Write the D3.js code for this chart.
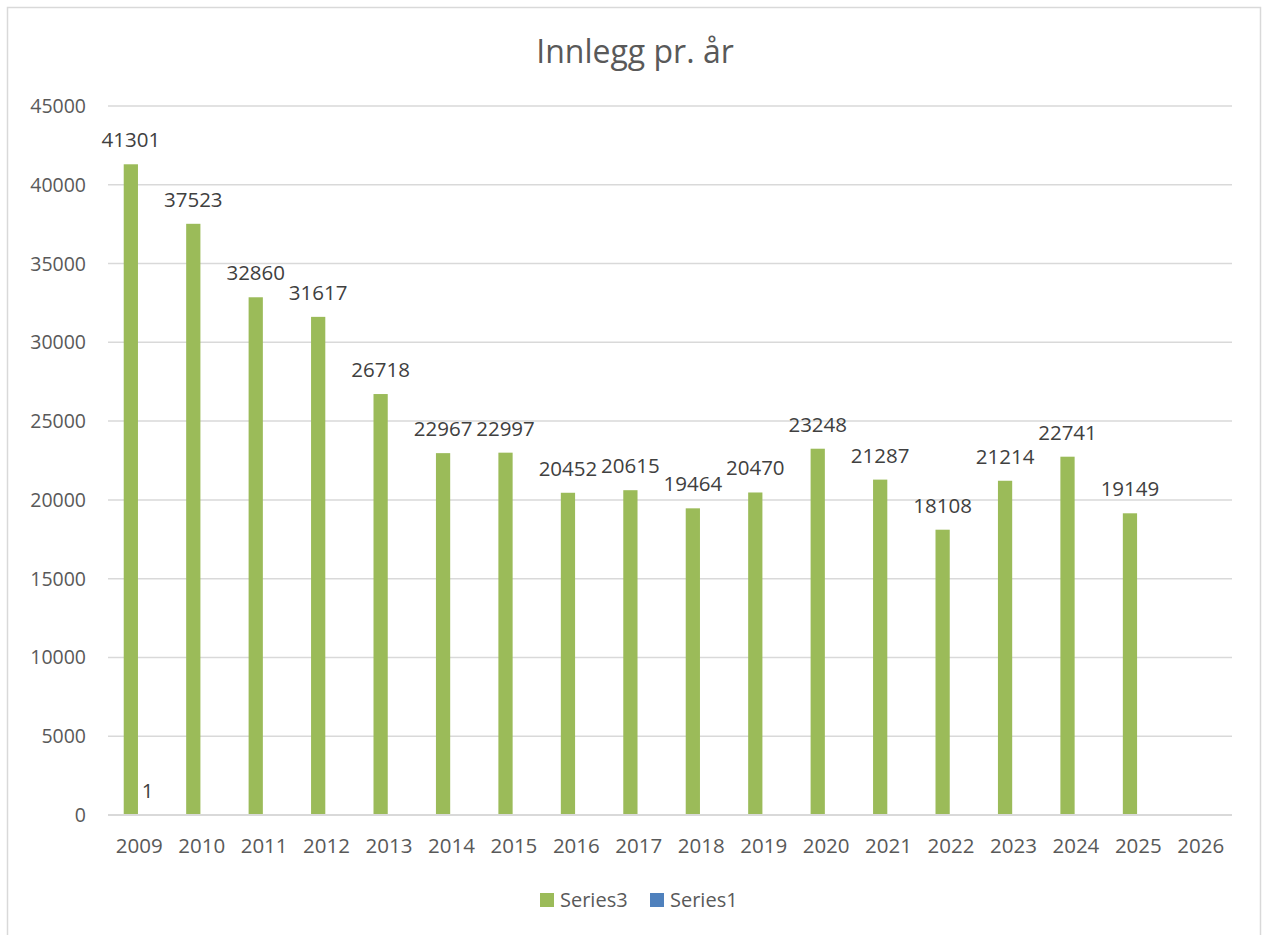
<!DOCTYPE html>
<html>
<head>
<meta charset="utf-8">
<script src="https://cdn.jsdelivr.net/npm/d3@7"></script>
<style>
  body { margin: 0; background: #fff; }
  text { font-family: "Open Sans", sans-serif; }
</style>
</head>
<body>
<script>
var years = ['2009','2010','2011','2012','2013','2014','2015','2016','2017','2018','2019','2020','2021','2022','2023','2024','2025','2026'];
var series3 = [41301,37523,32860,31617,26718,22967,22997,20452,20615,19464,20470,23248,21287,18108,21214,22741,19149,null];
var series1 = [1,null,null,null,null,null,null,null,null,null,null,null,null,null,null,null,null,null];
var seriesNames = ['Series3','Series1'];
var seriesColors = ['#9bbb59','#4f81bd'];
var yTicks = [0,5000,10000,15000,20000,25000,30000,35000,40000,45000];

var W = 1262, H = 935;
var svg = d3.select('body').append('svg').attr('width', W).attr('height', H);

// chart frame
svg.append('rect').attr('x', 7.5).attr('y', 7.5).attr('width', 1253).attr('height', 940)
  .attr('fill', '#fff').attr('stroke', '#d9d9d9').attr('stroke-width', 1.5);

var x = d3.scaleBand().domain(years).range([108, 1232]).padding(0);
var y = d3.scaleLinear().domain([0, 45000]).range([815, 106]);

// gridlines
svg.append('g').selectAll('line').data(yTicks.slice(1)).enter().append('line')
  .attr('x1', 108).attr('x2', 1232)
  .attr('y1', function(d){ return y(d); }).attr('y2', function(d){ return y(d); })
  .attr('stroke', '#d9d9d9').attr('stroke-width', 1.5);

// y tick labels
svg.append('g').selectAll('text').data(yTicks).enter().append('text')
  .attr('x', 86).attr('y', function(d){ return y(d) + 7; })
  .attr('text-anchor', 'end').attr('font-size', 19.5).attr('fill', '#595959')
  .text(function(d){ return d; });

// bars
var rows = [];
years.forEach(function(yr, i){
  rows.push({year: yr, s: 0, v: series3[i]});
  rows.push({year: yr, s: 1, v: series1[i]});
});
rows = rows.filter(function(r){ return r.v !== null; });

function inner(yr){
  var c = x(yr) + x.bandwidth() / 2;
  return d3.scaleBand().domain([0, 1]).range([c - 15.5, c + 15.5]).paddingInner(0.15).paddingOuter(0);
}

svg.append('g').selectAll('rect').data(rows).enter().append('rect')
  .attr('x', function(d){ return inner(d.year)(d.s); })
  .attr('width', function(d){ return inner(d.year).bandwidth(); })
  .attr('y', function(d){ return y(d.v); })
  .attr('height', function(d){ return 815 - y(d.v); })
  .attr('fill', function(d){ return seriesColors[d.s]; });

// axis line
svg.append('line').attr('x1', 108).attr('x2', 1232).attr('y1', 815).attr('y2', 815)
  .attr('stroke', '#d9d9d9').attr('stroke-width', 2);

// value labels
svg.append('g').selectAll('text').data(rows).enter().append('text')
  .attr('x', function(d){ var s = inner(d.year); return s(d.s) + s.bandwidth() / 2; })
  .attr('y', function(d){ return y(d.v) - 17; })
  .attr('text-anchor', 'middle').attr('font-size', 20.5).attr('fill', '#404040')
  .text(function(d){ return d.v; });

// x labels
svg.append('g').selectAll('text').data(years).enter().append('text')
  .attr('x', function(d){ return x(d) + x.bandwidth() / 2; })
  .attr('y', 853)
  .attr('text-anchor', 'middle').attr('font-size', 20.5).attr('fill', '#595959')
  .text(function(d){ return d; });

// title
svg.append('text').attr('x', 635).attr('y', 63).attr('text-anchor', 'middle')
  .attr('font-size', 32).attr('fill', '#595959').text('Innlegg pr. år');

// legend
var legX = [540, 650];
seriesNames.forEach(function(n, i){
  svg.append('rect').attr('x', legX[i]).attr('y', 893).attr('width', 14).attr('height', 14)
    .attr('fill', seriesColors[i]);
  svg.append('text').attr('x', legX[i] + 20).attr('y', 907)
    .attr('font-size', 20).attr('fill', '#595959').text(n);
});
</script>
</body>
</html>
